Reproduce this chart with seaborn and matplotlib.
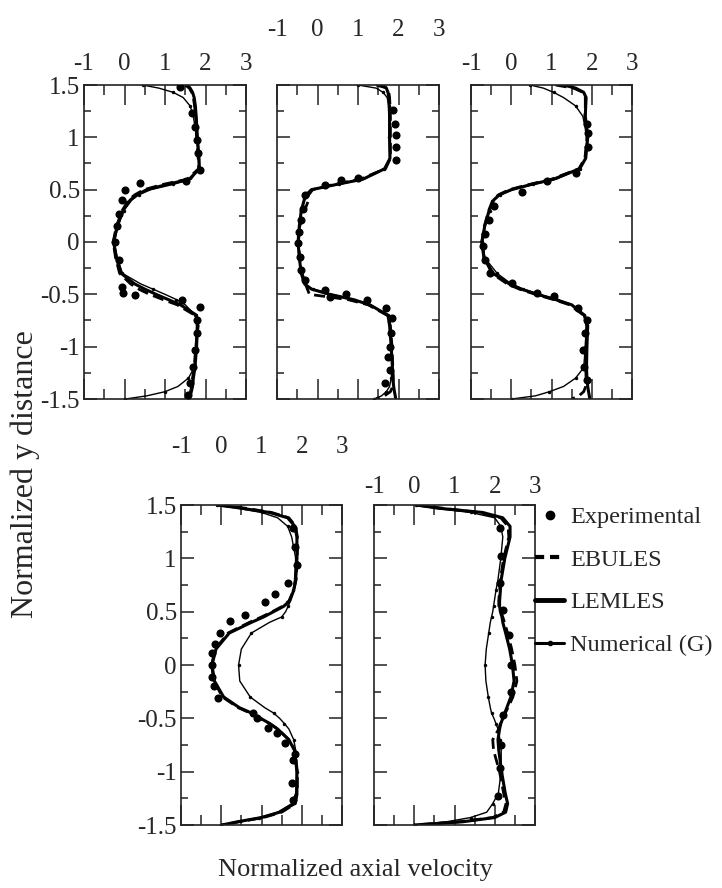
import matplotlib
matplotlib.use("Agg")
import matplotlib.pyplot as plt
import seaborn as sns
import pandas as pd
from matplotlib.ticker import MultipleLocator, FuncFormatter
from matplotlib.lines import Line2D

# ---------------- data ----------------
Y_LINE = [1.5, 1.47, 1.43, 1.38, 1.3, 1.2, 1.0, 0.8, 0.7, 0.6, 0.55, 0.5, 0.45, 0.4, 0.3, 0.15, 0.0,
          -0.15, -0.3, -0.4, -0.45, -0.5, -0.55, -0.6, -0.7, -0.8, -1.0, -1.2, -1.3, -1.38, -1.43, -1.47, -1.5]

P1_LEMLES = [1.55, 1.62, 1.68, 1.72, 1.75, 1.77, 1.80, 1.84, 1.85, 1.60, 1.05, 0.55, 0.30, 0.14, -0.04, -0.18, -0.27,
             -0.20, -0.08, 0.25, 0.50, 0.78, 1.08, 1.38, 1.78, 1.80, 1.78, 1.74, 1.70, 1.68, 1.65, 1.62, 1.58]
P1_EBULES = [1.50, 1.60, 1.66, 1.70, 1.73, 1.76, 1.78, 1.82, 1.83, 1.55, 0.95, 0.48, 0.25, 0.10, -0.06, -0.20, -0.28,
             -0.22, -0.12, 0.15, 0.35, 0.62, 0.95, 1.30, 1.74, 1.82, 1.76, 1.72, 1.68, 1.66, 1.63, 1.60, 1.55]
P1_NUM = [0.45, 0.85, 1.20, 1.45, 1.62, 1.70, 1.78, 1.82, 1.83, 1.65, 1.20, 0.65, 0.35, 0.18, -0.02, -0.16, -0.25,
          -0.18, -0.05, 0.40, 0.70, 1.00, 1.28, 1.50, 1.75, 1.78, 1.76, 1.72, 1.58, 1.32, 1.00, 0.55, 0.02]
P1_EXP_X = [1.37, 1.66, 1.74, 1.78, 1.82, 1.86, 1.53, 0.38, 0.01, -0.07, -0.13, -0.19, -0.23, -0.13, -0.07, -0.03,
            0.26, 1.41, 1.86, 1.78, 1.78, 1.74, 1.70, 1.62, 1.58]
P1_EXP_Y = [1.48, 1.23, 1.10, 0.97, 0.85, 0.69, 0.58, 0.56, 0.50, 0.40, 0.27, 0.15, 0.00, -0.17, -0.43, -0.49,
            -0.51, -0.55, -0.62, -0.75, -0.87, -1.03, -1.19, -1.35, -1.46]

P2_LEMLES = [1.60, 1.70, 1.74, 1.76, 1.77, 1.78, 1.78, 1.79, 1.66, 1.12, 0.47, -0.15, -0.28, -0.33, -0.40, -0.45, -0.48,
             -0.45, -0.40, -0.32, -0.15, 0.30, 0.88, 1.29, 1.74, 1.78, 1.82, 1.85, 1.86, 1.88, 1.90, 1.92, 1.93]
P2_EBULES = [1.45, 1.72, 1.76, 1.78, 1.79, 1.80, 1.80, 1.80, 1.68, 1.05, 0.40, -0.12, -0.22, -0.22, -0.32, -0.44, -0.47,
             -0.44, -0.38, -0.30, -0.25, -0.20, 0.75, 1.25, 1.72, 1.80, 1.84, 1.86, 1.87, 1.86, 1.80, 1.65, 1.45]
P2_NUM = [1.00, 1.45, 1.62, 1.72, 1.76, 1.77, 1.77, 1.78, 1.64, 1.15, 0.52, -0.10, -0.25, -0.32, -0.40, -0.45, -0.48,
          -0.45, -0.40, -0.32, -0.12, 0.35, 0.92, 1.32, 1.74, 1.78, 1.82, 1.84, 1.82, 1.78, 1.70, 1.58, 1.40]
P2_EXP_X = [1.86, 1.91, 1.93, 1.93, 1.95, 1.00, 0.59, 0.18, -0.32, -0.36, -0.40, -0.46, -0.48, -0.44, -0.40, -0.32,
            0.18, 0.30, 0.71, 1.21, 1.70, 1.85, 1.82, 1.78, 1.74, 1.78, 1.66]
P2_EXP_Y = [1.26, 1.13, 1.02, 0.91, 0.78, 0.61, 0.59, 0.54, 0.45, 0.32, 0.21, 0.10, -0.01, -0.14, -0.27, -0.36,
            -0.46, -0.53, -0.50, -0.55, -0.63, -0.73, -0.87, -1.00, -1.10, -1.22, -1.35]

P3_LEMLES = [1.30, 1.60, 1.80, 1.86, 1.85, 1.84, 1.90, 1.85, 1.70, 1.05, 0.50, 0.00, -0.30, -0.44, -0.55, -0.66, -0.73,
             -0.68, -0.45, -0.05, 0.25, 0.65, 1.10, 1.50, 1.82, 1.90, 1.88, 1.87, 1.88, 1.90, 1.92, 1.94, 1.95]
P3_EBULES = [1.10, 1.55, 1.78, 1.84, 1.84, 1.83, 1.88, 1.83, 1.68, 1.00, 0.45, -0.05, -0.32, -0.46, -0.56, -0.67, -0.73,
             -0.67, -0.48, -0.10, 0.20, 0.60, 1.05, 1.45, 1.80, 1.88, 1.86, 1.85, 1.86, 1.85, 1.80, 1.68, 1.50]
P3_NUM = [0.47, 0.80, 1.05, 1.30, 1.60, 1.78, 1.88, 1.84, 1.72, 1.12, 0.55, 0.05, -0.28, -0.42, -0.54, -0.65, -0.72,
          -0.66, -0.35, 0.00, 0.30, 0.70, 1.15, 1.52, 1.80, 1.86, 1.84, 1.80, 1.60, 1.30, 0.95, 0.60, 0.01]
P3_EXP_X = [1.87, 1.91, 1.91, 1.62, 0.88, 0.26, -0.44, -0.56, -0.65, -0.69, -0.65, -0.52, 0.01, 0.63, 1.05, 1.66,
            1.87, 1.83, 1.79, 1.80, 1.87]
P3_EXP_Y = [1.13, 1.04, 0.91, 0.66, 0.58, 0.48, 0.34, 0.21, 0.08, -0.04, -0.17, -0.30, -0.39, -0.49, -0.52, -0.63,
            -0.75, -0.87, -1.03, -1.19, -1.32]

P4_LEMLES = [-0.10, 0.50, 1.20, 1.65, 1.83, 1.88, 1.88, 1.85, 1.80, 1.70, 1.55, 1.30, 1.05, 0.75, 0.20, -0.13, -0.23,
             -0.17, 0.06, 0.45, 0.75, 0.98, 1.21, 1.40, 1.68, 1.82, 1.88, 1.88, 1.82, 1.45, 1.00, 0.40, 0.02]
P4_EBULES = [-0.05, 0.60, 1.25, 1.68, 1.85, 1.89, 1.89, 1.86, 1.80, 1.68, 1.52, 1.27, 1.00, 0.70, 0.17, -0.15, -0.24,
             -0.18, 0.03, 0.42, 0.72, 0.96, 1.20, 1.40, 1.68, 1.83, 1.89, 1.89, 1.84, 1.50, 1.05, 0.45, 0.00]
P4_NUM = [-0.10, 0.40, 1.00, 1.40, 1.65, 1.75, 1.85, 1.82, 1.79, 1.72, 1.66, 1.60, 1.50, 1.20, 0.75, 0.50, 0.43,
          0.46, 0.72, 1.08, 1.30, 1.45, 1.57, 1.68, 1.80, 1.85, 1.87, 1.85, 1.75, 1.40, 0.95, 0.45, 0.00]
P4_EXP_X = [1.79, 1.83, 1.88, 1.67, 1.34, 1.09, 0.60, 0.22, -0.02, -0.15, -0.23, -0.23, -0.23, -0.19, -0.07,
            0.80, 0.88, 1.17, 1.38, 1.59, 1.83, 1.79, 1.75, 1.79]
P4_EXP_Y = [1.28, 1.11, 0.94, 0.77, 0.67, 0.59, 0.47, 0.41, 0.30, 0.20, 0.11, 0.00, -0.11, -0.20, -0.31,
            -0.45, -0.50, -0.59, -0.64, -0.73, -0.83, -0.89, -1.11, -1.27]

P5_LEMLES = [0.05, 0.60, 1.70, 2.20, 2.38, 2.38, 2.25, 2.16, 2.14, 2.12, 2.12, 2.14, 2.18, 2.20, 2.27, 2.37, 2.44,
             2.48, 2.40, 2.30, 2.25, 2.20, 2.15, 2.12, 2.08, 2.10, 2.17, 2.26, 2.32, 2.27, 2.00, 1.20, 0.00]
P5_EBULES = [0.05, 0.70, 1.60, 2.15, 2.33, 2.35, 2.22, 2.14, 2.12, 2.10, 2.10, 2.15, 2.20, 2.24, 2.32, 2.42, 2.50,
             2.55, 2.45, 2.33, 2.26, 2.20, 2.14, 2.10, 1.95, 1.97, 2.12, 2.22, 2.28, 2.22, 1.95, 1.10, 0.00]
P5_NUM = [0.05, 0.50, 1.40, 2.00, 2.15, 2.20, 2.15, 2.08, 2.03, 1.99, 1.97, 1.95, 1.92, 1.89, 1.85, 1.79, 1.76,
          1.78, 1.84, 1.89, 1.92, 1.98, 2.03, 2.08, 2.13, 2.16, 2.16, 2.09, 1.95, 1.80, 1.40, 0.80, 0.01]
P5_EXP_X = [2.12, 2.16, 2.12, 2.20, 2.36, 2.41, 2.41, 2.20, 2.16, 2.14, 2.09]
P5_EXP_Y = [1.28, 1.02, 0.77, 0.52, 0.28, 0.00, -0.25, -0.47, -0.75, -0.97, -1.23]

SERIES_NAMES = ["Experimental", "EBULES", "LEMLES", "Numerical (G)"]
X_LABEL = "Normalized axial velocity"
Y_LABEL = "Normalized y distance"

# ---------------- style ----------------
sns.set_theme(style="ticks")
FONT = ["Liberation Serif", "DejaVu Serif"]
plt.rcParams["font.family"] = FONT
plt.rcParams["axes.unicode_minus"] = False
plt.rcParams["axes.edgecolor"] = "#222222"
plt.rcParams["axes.linewidth"] = 1.2

W, H = 722, 888
fig = plt.figure(figsize=(W / 100, H / 100), dpi=100)
fig.patch.set_facecolor("white")


def add_ax(l, r, t, b):
    return fig.add_axes([l / W, 1 - b / H, (r - l) / W, (b - t) / H])


panels = [
    # (left, right, top, bottom), lemles, ebules, num, expx, expy, xpad, ylabels
    ((84, 246, 85, 399), P1_LEMLES, P1_EBULES, P1_NUM, P1_EXP_X, P1_EXP_Y, 7, True),
    ((277, 439, 85, 399), P2_LEMLES, P2_EBULES, P2_NUM, P2_EXP_X, P2_EXP_Y, 32, False),
    ((471, 632, 85, 399), P3_LEMLES, P3_EBULES, P3_NUM, P3_EXP_X, P3_EXP_Y, 7, False),
    ((181, 342, 505, 825), P4_LEMLES, P4_EBULES, P4_NUM, P4_EXP_X, P4_EXP_Y, 34, True),
    ((374, 535, 505, 825), P5_LEMLES, P5_EBULES, P5_NUM, P5_EXP_X, P5_EXP_Y, 5, False),
]

fmt = FuncFormatter(lambda v, p: "%g" % v)
TICK_FS = 18

for box, lem, ebu, num, ex, ey, xpad, ylab in panels:
    ax = add_ax(*box)
    ax.set_facecolor("white")
    sns.lineplot(x=num, y=Y_LINE, sort=False, estimator=None, color="black", lw=1.0,
                 marker="o", markersize=2.5, markevery=2, markeredgewidth=0, ax=ax)
    sns.lineplot(x=ebu, y=Y_LINE, sort=False, estimator=None, color="black", lw=2.0,
                 linestyle=(0, (4, 2)), ax=ax)
    sns.lineplot(x=lem, y=Y_LINE, sort=False, estimator=None, color="black", lw=2.2, ax=ax)
    sns.scatterplot(x=ex, y=ey, color="black", s=34, marker="o", edgecolor="black",
                    linewidth=0, ax=ax, zorder=5)
    ax.set_xlim(-1, 3)
    ax.set_ylim(-1.5, 1.5)
    ax.set_xlabel("")
    ax.set_ylabel("")
    ax.xaxis.set_major_locator(MultipleLocator(1))
    ax.xaxis.set_minor_locator(MultipleLocator(0.5))
    ax.yaxis.set_major_locator(MultipleLocator(0.5))
    ax.yaxis.set_minor_locator(MultipleLocator(0.25))
    ax.xaxis.set_major_formatter(fmt)
    ax.yaxis.set_major_formatter(fmt)
    ax.tick_params(which="both", direction="in", top=True, bottom=True, left=True, right=True,
                   labeltop=True, labelbottom=False, labelleft=ylab, labelright=False,
                   color="#222222", labelsize=TICK_FS)
    ax.tick_params(axis="x", which="major", length=14.4, width=1.1, pad=xpad)
    ax.tick_params(axis="x", which="minor", length=7.2, width=1.1)
    ax.tick_params(axis="y", which="major", length=9.4, width=1.1, pad=3)
    ax.tick_params(axis="y", which="minor", length=5.0, width=1.1)
    for sp in ax.spines.values():
        sp.set_visible(True)
    last_ax = ax

# legend
handles = [
    Line2D([], [], color="black", marker="o", linestyle="none", markersize=6),
    Line2D([], [], color="black", lw=3, linestyle=(0, (2.2, 1.4))),
    Line2D([], [], color="black", lw=3.5),
    Line2D([], [], color="black", lw=2.2, marker="o", markersize=3, markevery=[1]),
]
leg = last_ax.legend(handles, SERIES_NAMES, loc="upper left",
                     bbox_to_anchor=(535 / W, 1 - 506 / H), bbox_transform=fig.transFigure,
                     frameon=False, fontsize=17.5, handlelength=1.2, handletextpad=0.25,
                     labelspacing=0.85, borderpad=0, borderaxespad=0)

fig.text(25 / W, 1 - 474 / H, Y_LABEL, rotation=90, ha="center", va="center", fontsize=23)
fig.text(355 / W, 1 - 870 / H, X_LABEL, ha="center", va="center", fontsize=19)

fig.savefig("out.png", dpi=100, facecolor="white")
